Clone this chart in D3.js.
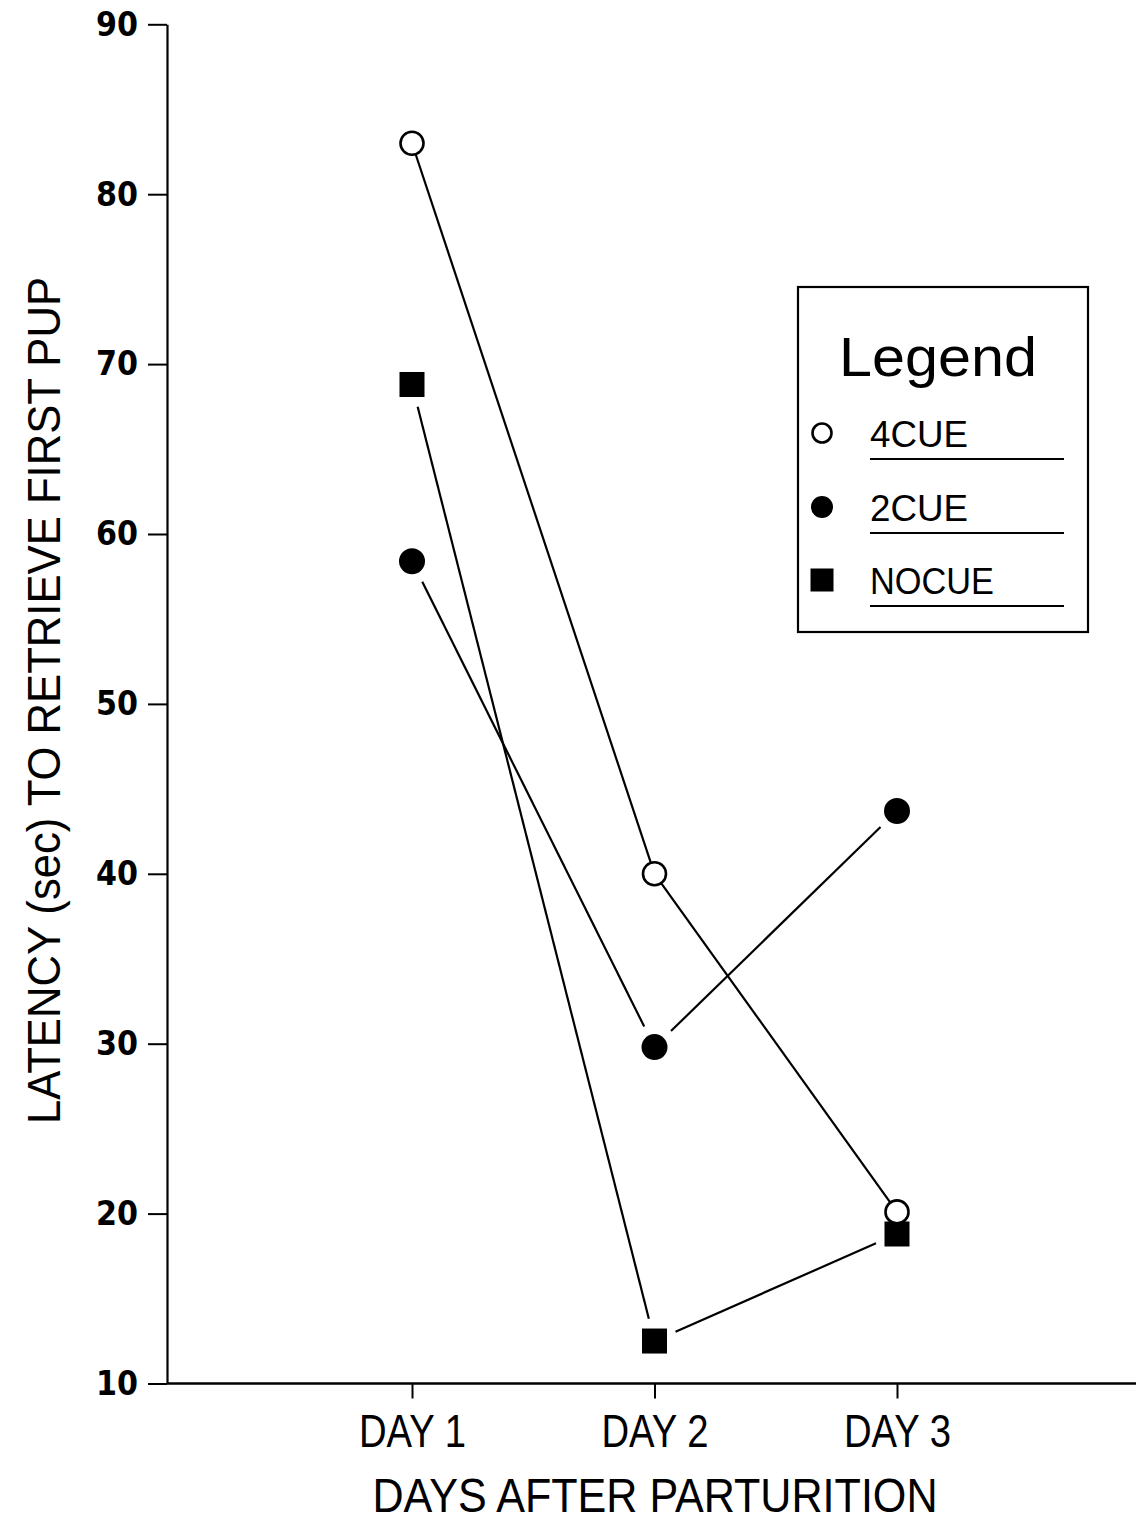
<!DOCTYPE html>
<html>
<head>
<meta charset="utf-8">
<script src="https://cdn.jsdelivr.net/npm/d3@7"></script>
<style>
  html, body { margin: 0; padding: 0; background: #fff; }
  svg { display: block; }
</style>
</head>
<body>
<svg id="chart" width="1136" height="1528"></svg>
<script>
// ---- data ----
const days = [1, 2, 3];
const dayLabels = ["DAY 1", "DAY 2", "DAY 3"];
const yTicks = [10, 20, 30, 40, 50, 60, 70, 80, 90];
const seriesNames = ["4CUE", "2CUE", "NOCUE"];
const cue4 = [83.0, 40.0, 20.1];
const cue2 = [58.4, 29.8, 43.7];
const nocue = [68.8, 12.5, 18.8];
const xTitle = "DAYS AFTER PARTURITION";
const yTitle = "LATENCY (sec) TO RETRIEVE FIRST PUP";
const legendTitle = "Legend";

const series = [
  { name: seriesNames[0], values: cue4, marker: "open", gap: 0 },
  { name: seriesNames[1], values: cue2, marker: "filled", gap: 23 },
  { name: seriesNames[2], values: nocue, marker: "square", gap: 23 }
];

const svg = d3.select("#chart");
const x = d3.scaleLinear().domain([0, 4]).range([169.5, 1139.5]);
const y = d3.scaleLinear().domain([10, 90]).range([1383.5, 24.3]);
const axisX0 = 167;

const narrow = "'Liberation Sans Narrow', 'Liberation Sans', Arial, sans-serif";
const reg = "'Liberation Sans', Arial, sans-serif";

// ---- y axis ----
const yAxis = d3.axisLeft(y).tickValues(yTicks).tickSize(19).tickSizeOuter(0).tickPadding(10)
  .tickFormat(d3.format("d"));
const gy = svg.append("g").attr("transform", `translate(${axisX0},0)`).call(yAxis);
gy.select(".domain").attr("stroke", "#000").attr("stroke-width", 2.2);
gy.selectAll(".tick line").attr("stroke", "#000").attr("stroke-width", 2);
gy.selectAll(".tick text")
  .attr("fill", "#000")
  .attr("textLength", 42).attr("lengthAdjust", "spacingAndGlyphs")
  .style("font-family", "'DejaVu Sans', Verdana, sans-serif")
  .style("font-weight", "bold")
  .style("font-size", "34px");

// ---- x axis ----
const xAxis = d3.axisBottom(x).tickValues(days).tickSize(15).tickSizeOuter(0)
  .tickFormat((d, i) => dayLabels[i]);
const gx = svg.append("g").attr("transform", `translate(0,${y(10)})`).call(xAxis);
gx.select(".domain").remove();
gx.append("line").attr("x1", axisX0).attr("x2", 1136).attr("y1", 0).attr("y2", 0)
  .attr("stroke", "#000").attr("stroke-width", 2.6);
gx.selectAll(".tick line").attr("stroke", "#000").attr("stroke-width", 2);
gx.selectAll(".tick text")
  .attr("fill", "#000")
  .attr("y", 63).attr("dy", 0)
  .attr("textLength", 107).attr("lengthAdjust", "spacingAndGlyphs")
  .style("font-family", narrow)
  .style("font-size", "46px");

// ---- titles ----
svg.append("text")
  .attr("x", 655).attr("y", 1512)
  .attr("text-anchor", "middle")
  .attr("textLength", 565).attr("lengthAdjust", "spacingAndGlyphs")
  .style("font-family", narrow).style("font-size", "48px")
  .text(xTitle);

svg.append("text")
  .attr("transform", `translate(60,${(277 + 1124) / 2}) rotate(-90)`)
  .attr("text-anchor", "middle")
  .attr("textLength", 847).attr("lengthAdjust", "spacingAndGlyphs")
  .style("font-family", narrow).style("font-size", "46px")
  .text(yTitle);

// ---- lines ----
function shorten(p, q, g) {
  const dx = q[0] - p[0], dy = q[1] - p[1];
  const L = Math.hypot(dx, dy);
  return [[p[0] + dx * g / L, p[1] + dy * g / L], [q[0] - dx * g / L, q[1] - dy * g / L]];
}
const gl = svg.append("g");
series.forEach(s => {
  const pts = days.map((d, i) => [x(d), y(s.values[i])]);
  for (let i = 0; i < pts.length - 1; i++) {
    const [a, b] = shorten(pts[i], pts[i + 1], s.gap);
    gl.append("line").attr("x1", a[0]).attr("y1", a[1]).attr("x2", b[0]).attr("y2", b[1])
      .attr("stroke", "#000").attr("stroke-width", 2.2);
  }
});

// ---- markers ----
function drawMarker(g, type, cx, cy, size) {
  if (type === "open") {
    g.append("circle").attr("cx", cx).attr("cy", cy).attr("r", size.r)
      .attr("fill", "#fff").attr("stroke", "#000").attr("stroke-width", 2.6);
  } else if (type === "filled") {
    g.append("circle").attr("cx", cx).attr("cy", cy).attr("r", size.rf).attr("fill", "#000");
  } else {
    g.append("rect").attr("x", cx - size.s / 2).attr("y", cy - size.s / 2)
      .attr("width", size.s).attr("height", size.s).attr("fill", "#000");
  }
}
const gm = svg.append("g");
// draw squares first, then filled, then open circles on top
[series[2], series[1], series[0]].forEach(s => {
  days.forEach((d, i) => drawMarker(gm, s.marker, x(d), y(s.values[i]), { r: 11.5, rf: 13, s: 25 }));
});

// ---- legend ----
const lg = svg.append("g");
lg.append("rect").attr("x", 798).attr("y", 287).attr("width", 290).attr("height", 345)
  .attr("fill", "#fff").attr("stroke", "#000").attr("stroke-width", 2.2);
lg.append("text").attr("x", 839).attr("y", 376)
  .attr("textLength", 198).attr("lengthAdjust", "spacingAndGlyphs")
  .style("font-family", reg).style("font-size", "56px").text(legendTitle);
const rowY = [433, 507, 580];
series.forEach((s, i) => {
  drawMarker(lg, s.marker, 822, rowY[i], { r: 9.5, rf: 11, s: 23 });
  lg.append("text").attr("x", 870).attr("y", rowY[i] + 14)
    .attr("textLength", i === 2 ? 124 : 98).attr("lengthAdjust", "spacingAndGlyphs")
    .style("font-family", reg).style("font-size", "36px").text(s.name);
  lg.append("line").attr("x1", 870).attr("x2", 1064).attr("y1", rowY[i] + 26).attr("y2", rowY[i] + 26)
    .attr("stroke", "#000").attr("stroke-width", 2.2);
});
</script>
</body>
</html>
